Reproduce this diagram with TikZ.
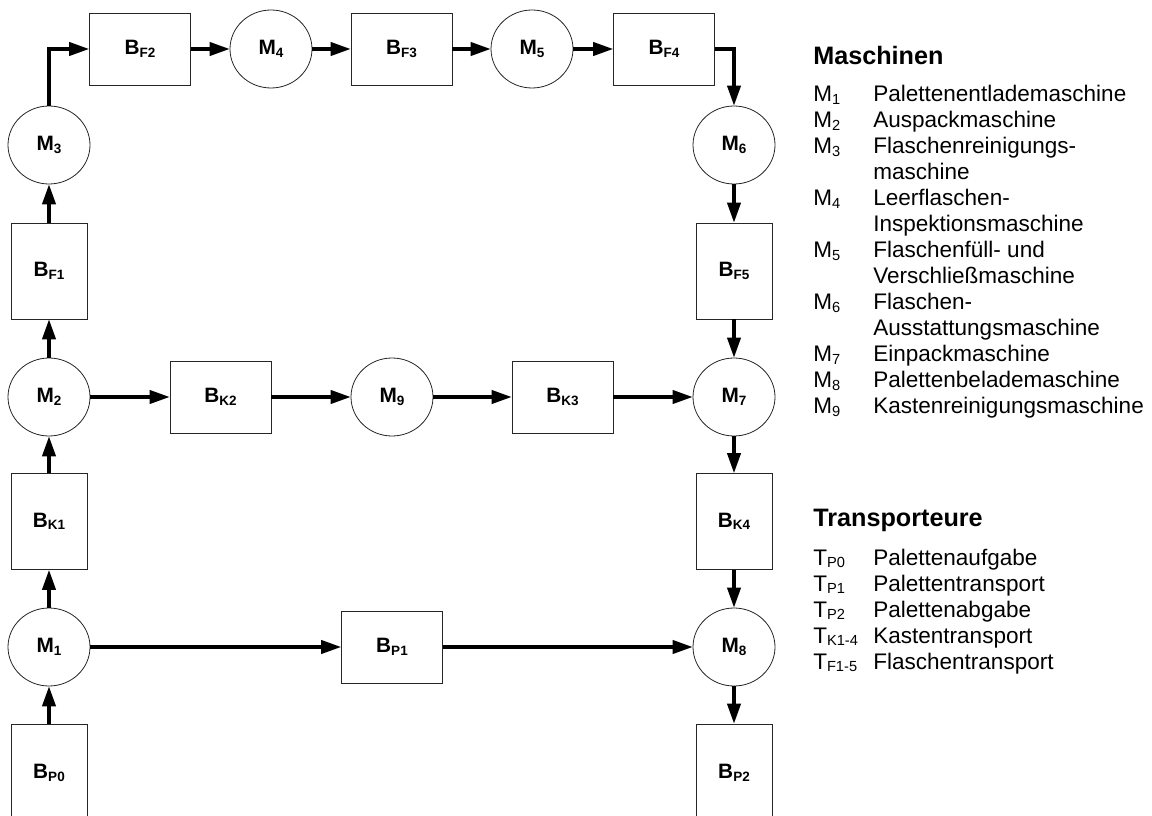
\documentclass[tikz,border=0pt]{standalone}
\usepackage{fontspec}
\setmainfont{Liberation Sans}
\usepackage{tikz}
\usetikzlibrary{shapes.geometric, arrows.meta}
\newcommand{\ix}[1]{\raisebox{-0.12em}{\scalebox{0.65}{#1}}}
\tikzstyle{maschine} = [ellipse, draw=black!85, line width=0.6pt, minimum width=61.5pt, minimum height=58.5pt, inner sep=0pt, font=\bfseries\fontsize{15.6}{18}\selectfont]
\tikzstyle{puffer} = [rectangle, draw=black!85, line width=0.6pt, minimum width=57pt, minimum height=72pt, inner sep=0pt, font=\bfseries\fontsize{15.6}{18}\selectfont]
\tikzstyle{pufferh} = [puffer, minimum width=75.75pt, minimum height=54pt]
\tikzstyle{arrow} = [line width=2.3pt, -{Triangle[length=15pt,width=10pt]}]
\tikzstyle{kopf} = [anchor=base west, inner sep=0pt, font=\bfseries\fontsize{18.9}{22}\selectfont]
\tikzstyle{liste} = [anchor=base west, inner sep=0pt, font=\fontsize{16.9}{19.5}\selectfont]

\begin{document}
\begin{tikzpicture}[x=0.75pt, y=-0.75pt]
\clip (0,0) rectangle (1152,816);

% linke Spalte
\node[puffer, minimum height=73.5pt] (bp0) at (49,773) {B\ix{P0}};
\node[maschine] (m1) at (49,647) {M\ix{1}};
\node[puffer] (bk1) at (49,521.5) {B\ix{K1}};
\node[maschine] (m2) at (49,397) {M\ix{2}};
\node[puffer] (bf1) at (49,271) {B\ix{F1}};
\node[maschine] (m3) at (49,145) {M\ix{3}};

% obere Reihe
\node[pufferh] (bf2) at (140,49) {B\ix{F2}};
\node[maschine] (m4) at (271,49) {M\ix{4}};
\node[pufferh] (bf3) at (401.5,49) {B\ix{F3}};
\node[maschine] (m5) at (532,49) {M\ix{5}};
\node[pufferh] (bf4) at (664,49) {B\ix{F4}};

% rechte Spalte
\node[maschine] (m6) at (734,145) {M\ix{6}};
\node[puffer] (bf5) at (734,271) {B\ix{F5}};
\node[maschine] (m7) at (734,397) {M\ix{7}};
\node[puffer] (bk4) at (734,521.5) {B\ix{K4}};
\node[maschine] (m8) at (734,647) {M\ix{8}};
\node[puffer, minimum height=73.5pt] (bp2) at (734,773) {B\ix{P2}};

% mittlere und untere Reihe
\node[pufferh] (bk2) at (220.5,397) {B\ix{K2}};
\node[maschine] (m9) at (392,397) {M\ix{9}};
\node[pufferh] (bk3) at (562.5,397) {B\ix{K3}};
\node[pufferh] (bp1) at (392,647) {B\ix{P1}};

% Materialfluss
\draw[arrow] (bp0) -- (m1);
\draw[arrow] (m1) -- (bk1);
\draw[arrow] (bk1) -- (m2);
\draw[arrow] (m2) -- (bf1);
\draw[arrow] (bf1) -- (m3);
\draw[arrow] (m3.north) |- (bf2.west);
\draw[arrow] (bf2) -- (m4);
\draw[arrow] (m4) -- (bf3);
\draw[arrow] (bf3) -- (m5);
\draw[arrow] (m5) -- (bf4);
\draw[arrow] (bf4.east) -| (m6.north);
\draw[arrow] (m6) -- (bf5);
\draw[arrow] (bf5) -- (m7);
\draw[arrow] (m7) -- (bk4);
\draw[arrow] (bk4) -- (m8);
\draw[arrow] (m8) -- (bp2);
\draw[arrow] (m2) -- (bk2);
\draw[arrow] (bk2) -- (m9);
\draw[arrow] (m9) -- (bk3);
\draw[arrow] (bk3) -- (m7);
\draw[arrow] (m1) -- (bp1);
\draw[arrow] (bp1) -- (m8);

% Legende
\node[kopf] (maschinen) at (813,65) {Maschinen};
\node[liste] (mliste) at (813,101.7) {\begin{tabular}[t]{@{}p{45pt}@{}l@{}}
M\ix{1} & Palettenentlademaschine\\
M\ix{2} & Auspackmaschine\\
M\ix{3} & Flaschenreinigungs-\\
 & maschine\\
M\ix{4} & Leerflaschen-\\
 & Inspektionsmaschine\\
M\ix{5} & Flaschenfüll- und\\
 & Verschließmaschine\\
M\ix{6} & Flaschen-\\
 & Ausstattungsmaschine\\
M\ix{7} & Einpackmaschine\\
M\ix{8} & Palettenbelademaschine\\
M\ix{9} & Kastenreinigungsmaschine
\end{tabular}};

\node[kopf] (transporteure) at (813,526.7) {Transporteure};
\node[liste] (tliste) at (813,565) {\begin{tabular}[t]{@{}p{45pt}@{}l@{}}
T\ix{P0} & Palettenaufgabe\\
T\ix{P1} & Palettentransport\\
T\ix{P2} & Palettenabgabe\\
T\ix{K1-4} & Kastentransport\\
T\ix{F1-5} & Flaschentransport
\end{tabular}};
\end{tikzpicture}
\end{document}
